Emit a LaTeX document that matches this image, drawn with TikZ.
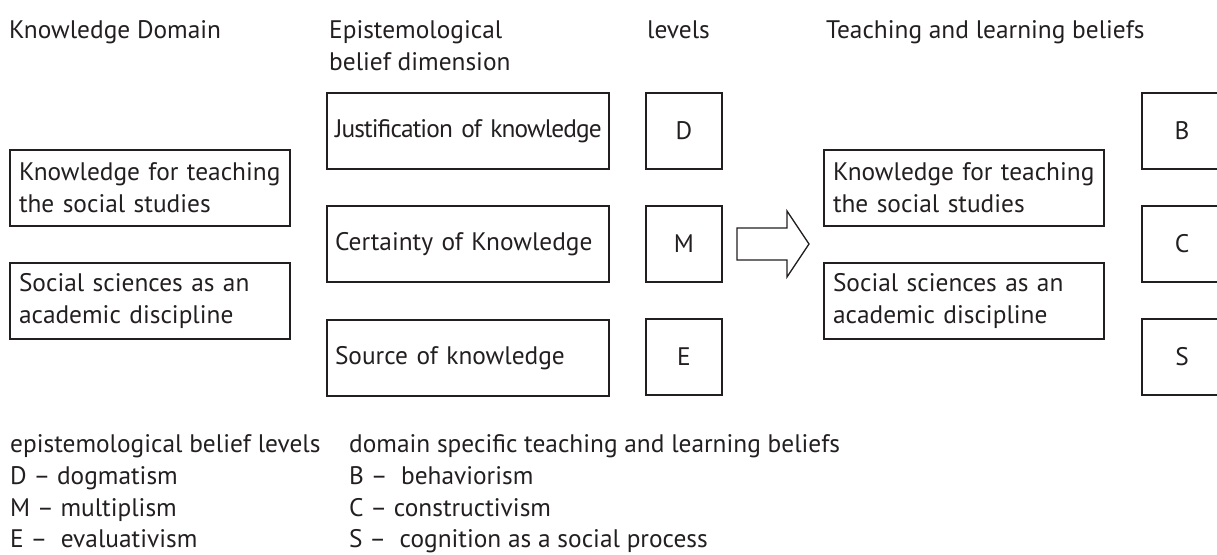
\documentclass[tikz,border=0pt]{standalone}
\usepackage{fontspec}
\setmainfont{PT Sans}
\definecolor{ink}{HTML}{231F20}
\newlength\kwlen
\begin{document}
\settowidth\kwlen{\fontsize{10pt}{12pt}\selectfont Knowledge for teaching}%
\pgfmathsetmacro\fs{2580/\kwlen}%
\begin{tikzpicture}[x=1pt,y=-1pt,
  txt/.style={text=ink, font=\fontsize{\fs pt}{32pt}\selectfont},
  box/.style={txt, draw=ink, line width=1.3pt, rectangle, minimum height=76pt,
    inner xsep=9pt, inner ysep=0pt, align=left},
  wbox/.style={box, text width=262pt},
  mbox/.style={box, text width=266pt, inner xsep=8pt},
  sqbox/.style={box, minimum width=76pt, align=center},
  rbox/.style={box, minimum width=80pt, align=center},
  lbl/.style={txt, anchor=base west, inner sep=0pt},
  blockarrow/.style={draw=ink, line width=1.3pt, line join=miter}]
\useasboundingbox (0,0) rectangle (1217,554);
\clip (0,0) rectangle (1217,554);
% headers
\node[lbl] (h1) at (9,38) {Knowledge Domain};
\node[lbl] (h2a) at (329,38) {Epistemological};
\node[lbl] (h2b) at (329,70) {belief dimension};
\node[lbl] (h3) at (647,38) {levels};
\node[lbl] (h4) at (826,38) {Teaching and learning beliefs};
% left column
\node[wbox] (kd1) at (150,188) {Knowledge for teaching\\the social studies};
\node[wbox] (kd2) at (150,301) {Social sciences as an\\academic discipline};
% epistemological dimensions
\node[mbox] (ed1) at (468,131) {\addfontfeatures{LetterSpace=-3.5}\mbox{Justification of knowledge}};
\node[mbox] (ed2) at (468,244) {Certainty of Knowledge};
\node[mbox] (ed3) at (468,358) {Source of knowledge};
% levels
\node[sqbox] (lD) at (684,131) {D};
\node[sqbox] (lM) at (684,244) {M};
\node[sqbox] (lE) at (684,357) {E};
% block arrow
\draw[blockarrow] (737,228) -- (787,228) -- (787,211) -- (809,244) -- (787,277) -- (787,260) -- (737,260) -- cycle;
% teaching and learning
\node[wbox] (tl1) at (964,188) {Knowledge for teaching\\the social studies};
\node[wbox] (tl2) at (964,301) {Social sciences as an\\academic discipline};
\node[rbox] (rB) at (1182,131) {B};
\node[rbox] (rC) at (1182,244) {C};
\node[rbox] (rS) at (1182,357) {S};
% legend
\node[lbl] (g1) at (10,452) {epistemological belief levels};
\node[lbl] (g2) at (10,484) {D – dogmatism};
\node[lbl] (g3) at (10,516) {M – multiplism};
\node[lbl] (g4) at (10,547) {E –~ evaluativism};
\node[lbl] (k1) at (349,452) {domain specific teaching and learning beliefs};
\node[lbl] (k2) at (349,484) {B –~ behaviorism};
\node[lbl] (k3) at (349,516) {C – constructivism};
\node[lbl] (k4) at (349,547) {S –~ cognition as a social process};
\end{tikzpicture}
\end{document}
